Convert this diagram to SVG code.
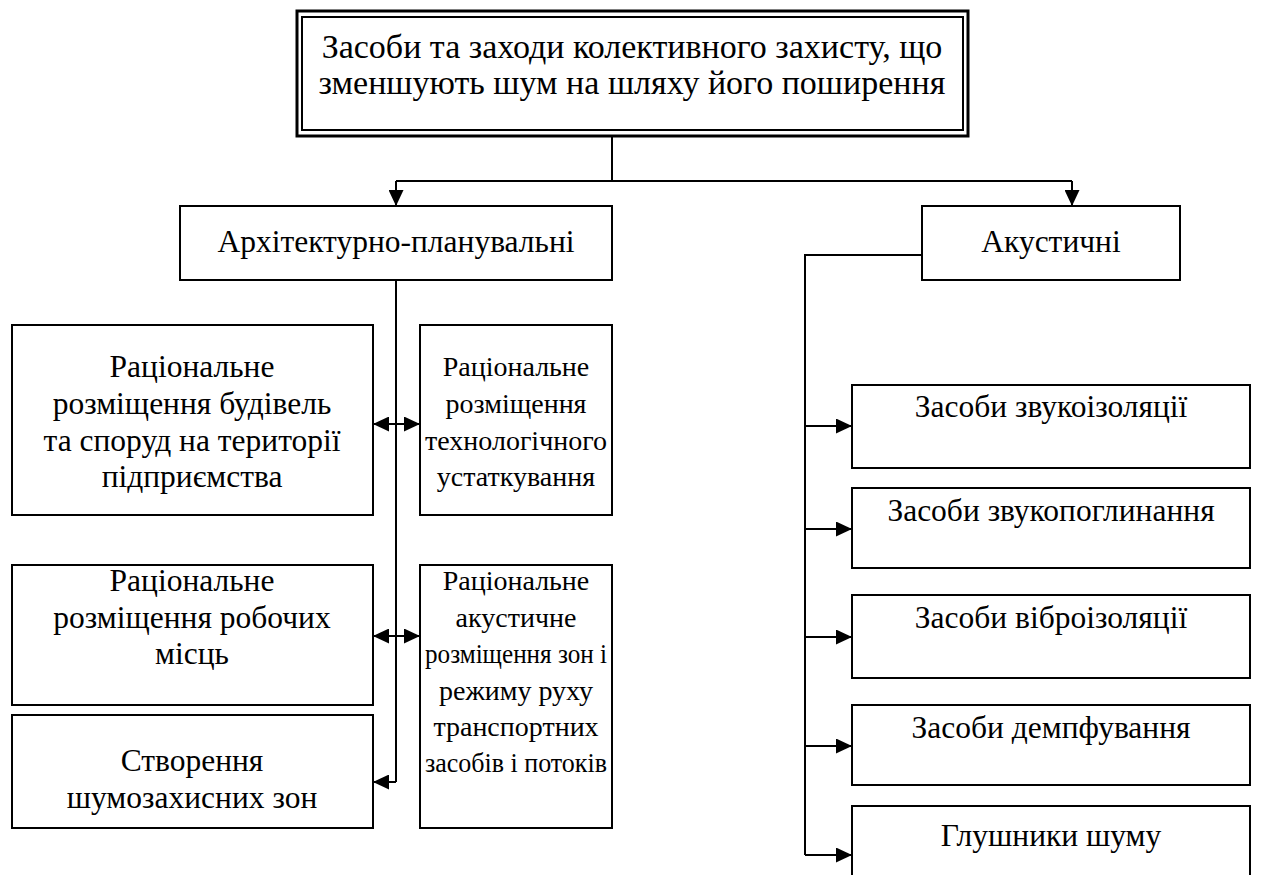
<svg xmlns="http://www.w3.org/2000/svg" width="1262" height="875" viewBox="0 0 1262 875">
<style>
.b{fill:#fff;stroke:#000;stroke-width:2}
.t{font-family:'Liberation Serif','Times New Roman',serif;font-size:31.5px;fill:#000;text-anchor:middle}
.h{font-size:34px}
.s{font-size:28px}
.c{fill:none;stroke:#000;stroke-width:2}
</style>
<defs>
<marker id="a" viewBox="0 0 10 10" refX="10" refY="5" markerWidth="16" markerHeight="15" markerUnits="userSpaceOnUse" orient="auto-start-reverse" preserveAspectRatio="none">
<path d="M0,0 L10,5 L0,10 z" fill="#000"/>
</marker>
</defs>
<rect width="1262" height="875" fill="#fff"/>
<g id="connectors">
<path class="c" d="M612,136 V181 M396,181 H1072"/>
<path class="c" d="M396,181 V206" marker-end="url(#a)"/>
<path class="c" d="M1072,181 V206" marker-end="url(#a)"/>
<path class="c" d="M396,280 V782"/>
<path class="c" d="M373,424 H420" marker-start="url(#a)" marker-end="url(#a)"/>
<path class="c" d="M373,636 H420" marker-start="url(#a)" marker-end="url(#a)"/>
<path class="c" d="M396,782 H373" marker-end="url(#a)"/>
<path class="c" d="M922,255 H805 V855"/>
<path class="c" d="M805,426 H852" marker-end="url(#a)"/>
<path class="c" d="M805,529 H852" marker-end="url(#a)"/>
<path class="c" d="M805,637 H852" marker-end="url(#a)"/>
<path class="c" d="M805,746 H852" marker-end="url(#a)"/>
<path class="c" d="M805,855 H852" marker-end="url(#a)"/>
</g>
<g id="top">
<rect x="297" y="11" width="671" height="125" fill="#fff" stroke="#000" stroke-width="3"/>
<rect x="302" y="17" width="661" height="113" fill="none" stroke="#000" stroke-width="2"/>
<text class="t h" x="632" y="58">Засоби та заходи колективного захисту, що</text>
<text class="t h" x="632" y="94">зменшують шум на шляху його поширення</text>
</g>
<g id="arch">
<rect class="b" x="180" y="206" width="432" height="74"/>
<text class="t" x="396" y="252">Архітектурно-планувальні</text>
</g>
<g id="acoustic">
<rect class="b" x="922" y="206" width="258" height="74"/>
<text class="t" x="1051" y="252">Акустичні</text>
</g>
<g id="n1">
<rect class="b" x="12" y="325" width="361" height="190"/>
<text class="t" x="192" y="377">Раціональне</text>
<text class="t" x="192" y="414">розміщення будівель</text>
<text class="t" x="192" y="451">та споруд на території</text>
<text class="t" x="192" y="487">підприємства</text>
</g>
<g id="n2">
<rect class="b" x="420" y="325" width="192" height="190"/>
<text class="t s" x="516" y="376">Раціональне</text>
<text class="t s" x="516" y="413">розміщення</text>
<text class="t s" x="516" y="450">технологічного</text>
<text class="t s" x="516" y="486">устаткування</text>
</g>
<g id="n3">
<rect class="b" x="12" y="565" width="361" height="140"/>
<text class="t" x="192" y="591">Раціональне</text>
<text class="t" x="192" y="628">розміщення робочих</text>
<text class="t" x="192" y="664">місць</text>
</g>
<g id="n4">
<rect class="b" x="420" y="565" width="192" height="263"/>
<text class="t s" x="516" y="590">Раціональне</text>
<text class="t s" x="516" y="627">акустичне</text>
<text class="t s" x="516" y="663" textLength="182" lengthAdjust="spacingAndGlyphs">розміщення зон і</text>
<text class="t s" x="516" y="700">режиму руху</text>
<text class="t s" x="516" y="736">транспортних</text>
<text class="t s" x="516" y="772" textLength="182" lengthAdjust="spacingAndGlyphs">засобів і потоків</text>
</g>
<g id="n5">
<rect class="b" x="12" y="715" width="361" height="113"/>
<text class="t" x="192" y="771">Створення</text>
<text class="t" x="192" y="808">шумозахисних зон</text>
</g>
<g id="r1">
<rect class="b" x="852" y="385" width="398" height="83"/>
<text class="t" x="1051" y="417">Засоби звукоізоляції</text>
</g>
<g id="r2">
<rect class="b" x="852" y="488" width="398" height="80"/>
<text class="t" x="1051" y="521">Засоби звукопоглинання</text>
</g>
<g id="r3">
<rect class="b" x="852" y="595" width="398" height="83"/>
<text class="t" x="1051" y="628">Засоби віброізоляції</text>
</g>
<g id="r4">
<rect class="b" x="852" y="705" width="398" height="80"/>
<text class="t" x="1051" y="738">Засоби демпфування</text>
</g>
<g id="r5">
<rect class="b" x="852" y="806" width="398" height="80"/>
<text class="t" x="1051" y="846">Глушники шуму</text>
</g>
</svg>
